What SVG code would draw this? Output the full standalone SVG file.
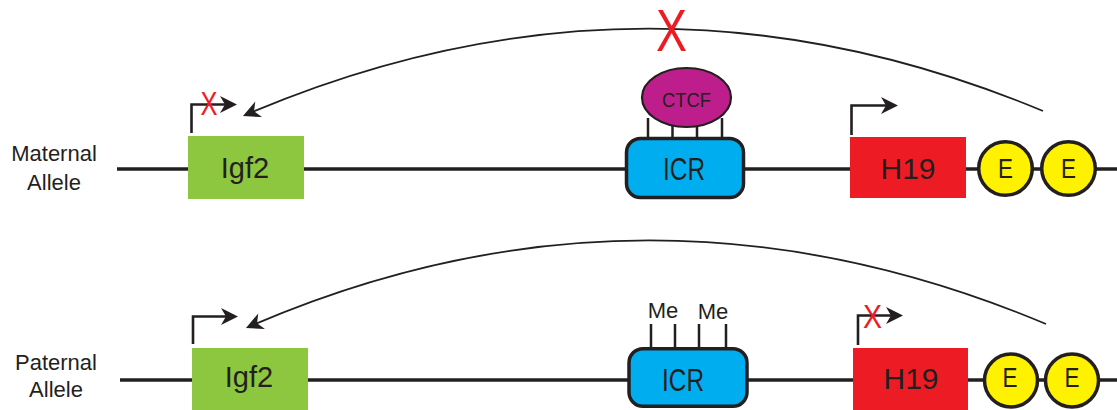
<svg xmlns="http://www.w3.org/2000/svg" width="1117" height="410" viewBox="0 0 1117 410">
  <style>
    .dna { stroke: #231f20; stroke-width: 3.4; fill: none; }
    .label { font-family: "Liberation Sans", Arial, sans-serif; fill: #231f20; text-anchor: middle; }
    .side { font-size: 22px; }
    .gene { font-size: 29px; }
    .icr { fill: #00aeef; stroke: #231f20; stroke-width: 3.5; }
    .enh { fill: #fff200; stroke: #231f20; stroke-width: 3.5; }
    .leg { stroke: #231f20; stroke-width: 2.5; }
    .prom { stroke: #231f20; stroke-width: 2.6; fill: none; marker-end: url(#head); }
    .loop { stroke: #231f20; stroke-width: 1.8; fill: none; marker-end: url(#head); }
    .block { font-family: "Liberation Sans", Arial, sans-serif; fill: #ed1c24; text-anchor: middle; }
  </style>
  <defs>
    <!-- barbed arrowhead; tip sits 6px beyond the path end -->
    <marker id="head" markerUnits="userSpaceOnUse" markerWidth="24" markerHeight="24" refX="12" refY="12" orient="auto" viewBox="0 0 24 24">
      <path d="M18,12 L1,3.5 L6,12 L1,20.5 Z" fill="#231f20"/>
    </marker>
  </defs>

  <!-- chromosome backbones -->
  <g id="strands">
    <line class="dna" x1="117" y1="169" x2="1117" y2="169"/>
    <line class="dna" x1="120" y1="380" x2="1117" y2="380"/>
  </g>

  <!-- allele labels -->
  <g id="maternal-label">
    <text class="label side" x="54" y="161">Maternal</text>
    <text class="label side" x="54" y="190">Allele</text>
  </g>
  <g id="paternal-label">
    <text class="label side" x="56" y="370">Paternal</text>
    <text class="label side" x="56" y="397">Allele</text>
  </g>

  <!-- maternal allele -->
  <g id="mat-igf2">
    <rect x="188" y="136" width="116" height="63" fill="#8dc63f"/>
    <text class="label gene" x="245" y="178">Igf2</text>
  </g>
  <g id="mat-icr">
    <line class="leg" x1="648" y1="118" x2="648" y2="139"/>
    <line class="leg" x1="672.5" y1="118" x2="672.5" y2="139"/>
    <line class="leg" x1="697" y1="118" x2="697" y2="139"/>
    <line class="leg" x1="722" y1="118" x2="722" y2="139"/>
    <rect class="icr" x="626.5" y="138.5" width="117" height="59" rx="14"/>
    <text class="label" x="684" y="180" font-size="32" textLength="42" lengthAdjust="spacingAndGlyphs">ICR</text>
  </g>
  <g id="mat-ctcf">
    <ellipse cx="686.5" cy="97.5" rx="44.5" ry="29.5" fill="#be1e8c" stroke="#231f20" stroke-width="2.2"/>
    <text class="label" x="686.5" y="107" font-size="20" textLength="49" lengthAdjust="spacingAndGlyphs">CTCF</text>
  </g>
  <g id="mat-h19">
    <rect x="850" y="137" width="116" height="61" fill="#ed1c24"/>
    <text class="label" x="908" y="179" font-size="30">H19</text>
  </g>
  <g id="mat-enh1">
    <circle class="enh" cx="1005.5" cy="168.5" r="26.8"/>
    <text class="label" x="1005.5" y="178" font-size="28" textLength="15" lengthAdjust="spacingAndGlyphs">E</text>
  </g>
  <g id="mat-enh2">
    <circle class="enh" cx="1068.5" cy="168.5" r="26.8"/>
    <text class="label" x="1068.5" y="178" font-size="28" textLength="15" lengthAdjust="spacingAndGlyphs">E</text>
  </g>

  <!-- paternal allele -->
  <g id="pat-igf2">
    <rect x="192" y="348" width="116" height="62" fill="#8dc63f"/>
    <text class="label gene" x="249" y="387">Igf2</text>
  </g>
  <g id="pat-icr">
    <line class="leg" x1="651" y1="324" x2="651" y2="350"/>
    <line class="leg" x1="675" y1="324" x2="675" y2="350"/>
    <line class="leg" x1="699" y1="324" x2="699" y2="350"/>
    <line class="leg" x1="726" y1="324" x2="726" y2="350"/>
    <rect class="icr" x="629" y="348.75" width="118" height="57.5" rx="14"/>
    <text class="label" x="683" y="391" font-size="32" textLength="42" lengthAdjust="spacingAndGlyphs">ICR</text>
    <text class="label side" x="663" y="318">Me</text>
    <text class="label side" x="713" y="319">Me</text>
  </g>
  <g id="pat-h19">
    <rect x="853" y="348" width="115" height="62" fill="#ed1c24"/>
    <text class="label" x="911" y="389" font-size="30">H19</text>
  </g>
  <g id="pat-enh1">
    <circle class="enh" cx="1011" cy="380.5" r="26.5"/>
    <text class="label" x="1010" y="387" font-size="28" textLength="15" lengthAdjust="spacingAndGlyphs">E</text>
  </g>
  <g id="pat-enh2">
    <circle class="enh" cx="1072" cy="380.5" r="26.5"/>
    <text class="label" x="1072" y="387" font-size="28" textLength="15" lengthAdjust="spacingAndGlyphs">E</text>
  </g>

  <!-- promoters, enhancer loops and blocks -->
  <g id="connectors">
    <path class="prom" d="M191.5,133 V104.5 H231"/>
    <path class="prom" d="M851.5,135 V105.5 H892"/>
    <path class="prom" d="M193,344 V316.5 H232"/>
    <path class="prom" d="M858,345 V315.5 H897"/>
    <path class="loop" d="M1043,111 Q645,-55 248.5,113.6"/>
    <path class="loop" d="M1046,324 Q646,156 251.5,325.6"/>
    <text class="block" x="671.5" y="51" font-size="60" textLength="31" lengthAdjust="spacingAndGlyphs">X</text>
    <text class="block" x="209" y="115" font-size="34" textLength="17" lengthAdjust="spacingAndGlyphs">X</text>
    <text class="block" x="872.5" y="328" font-size="33" textLength="19" lengthAdjust="spacingAndGlyphs">X</text>
  </g>
</svg>
